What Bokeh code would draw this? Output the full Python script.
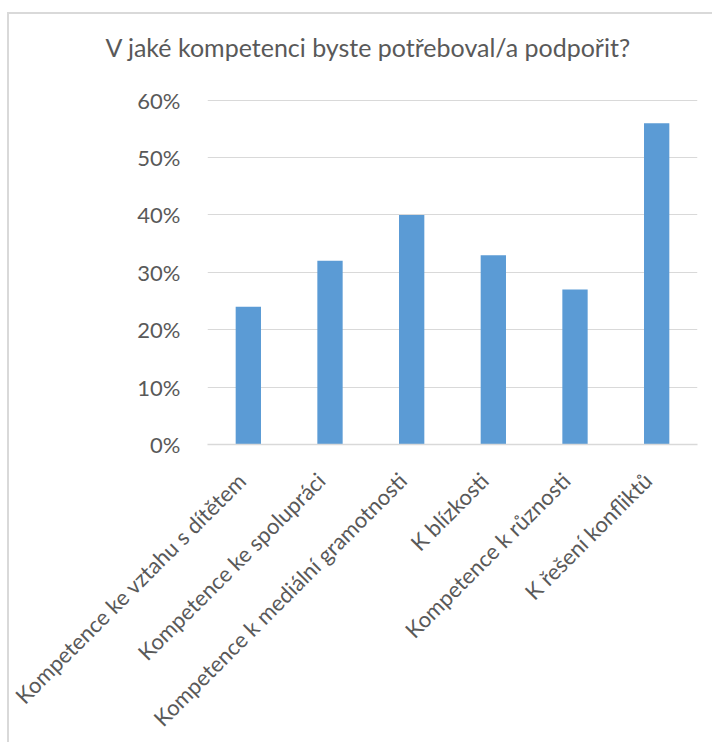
import math
from bokeh.plotting import figure
from bokeh.models import (Range1d, FixedTicker, NumeralTickFormatter,
                          ColumnDataSource, LinearAxis)
from bokeh.embed import file_html
from bokeh.resources import INLINE

title_text = "V jaké kompetenci byste potřeboval/a podpořit?"
categories = [
    "Kompetence ke vztahu s dítětem",
    "Kompetence ke spolupráci",
    "Kompetence k mediální gramotnosti",
    "K blízkosti",
    "Kompetence k různosti",
    "K řešení konfliktů",
]
values = [0.24, 0.32, 0.40, 0.33, 0.27, 0.56]
y_ticks = [0.0, 0.1, 0.2, 0.3, 0.4, 0.5, 0.6]

FONT = "Lato"
TEXT = "#595959"
GRID = "#d9d9d9"
BAR = "#5b9bd5"

n = len(categories)
idx = list(range(n))
src = ColumnDataSource(data=dict(x=idx, cat=categories, val=values))

p = figure(
    x_range=Range1d(-0.5, n - 0.5),
    y_range=Range1d(0, 0.65),
    width=705, height=730,
    output_backend="svg", toolbar_location=None,
    min_border_left=198, min_border_right=17, min_border_top=57, min_border_bottom=297,
    margin=(12, 0, 0, 7),
    styles={"border-top": "2px solid #d9d9d9", "border-left": "2px solid #d9d9d9"},
)

p.vbar(x="x", top="val", width=0.31, source=src, fill_color=BAR, line_color=None)

p.title.text = title_text
p.title.text_font = FONT
p.title.text_font_size = "25px"
p.title.text_font_style = "normal"
p.title.text_color = TEXT
p.title.align = "left"
p.title.offset = -102
p.title.standoff = 19

p.outline_line_color = None
p.background_fill_color = "white"
p.border_fill_color = "white"

p.xgrid.grid_line_color = None
p.ygrid.grid_line_color = GRID
p.ygrid.grid_line_width = 1
p.ygrid.ticker = FixedTicker(ticks=y_ticks)

p.yaxis.ticker = FixedTicker(ticks=y_ticks)
p.yaxis.formatter = NumeralTickFormatter(format="0%")
p.yaxis.axis_line_color = None
p.yaxis.major_tick_line_color = None
p.yaxis.minor_tick_line_color = None
p.yaxis.major_label_text_font = FONT
p.yaxis.major_label_text_font_size = "22px"
p.yaxis.major_label_text_color = TEXT
p.yaxis.major_label_standoff = 21

# category labels on an index axis whose range is nudged so that the rotated
# labels end at the column centres, as Excel places them
p.xaxis.visible = False
shift = 0.11
p.extra_x_ranges = {"lab": Range1d(-0.5 + shift, n - 0.5 + shift)}
xax = LinearAxis(
    x_range_name="lab",
    ticker=FixedTicker(ticks=idx),
    major_label_overrides={i: c for i, c in zip(idx, categories)},
    axis_line_color=GRID, axis_line_width=1.5,
    major_tick_line_color=None, minor_tick_line_color=None,
    major_label_orientation=math.pi / 4,
    major_label_text_font=FONT, major_label_text_font_size="22px",
    major_label_text_color=TEXT, major_label_standoff=26,
)
p.add_layout(xax, "below")

open("out.html", "w").write(file_html(p, INLINE))
